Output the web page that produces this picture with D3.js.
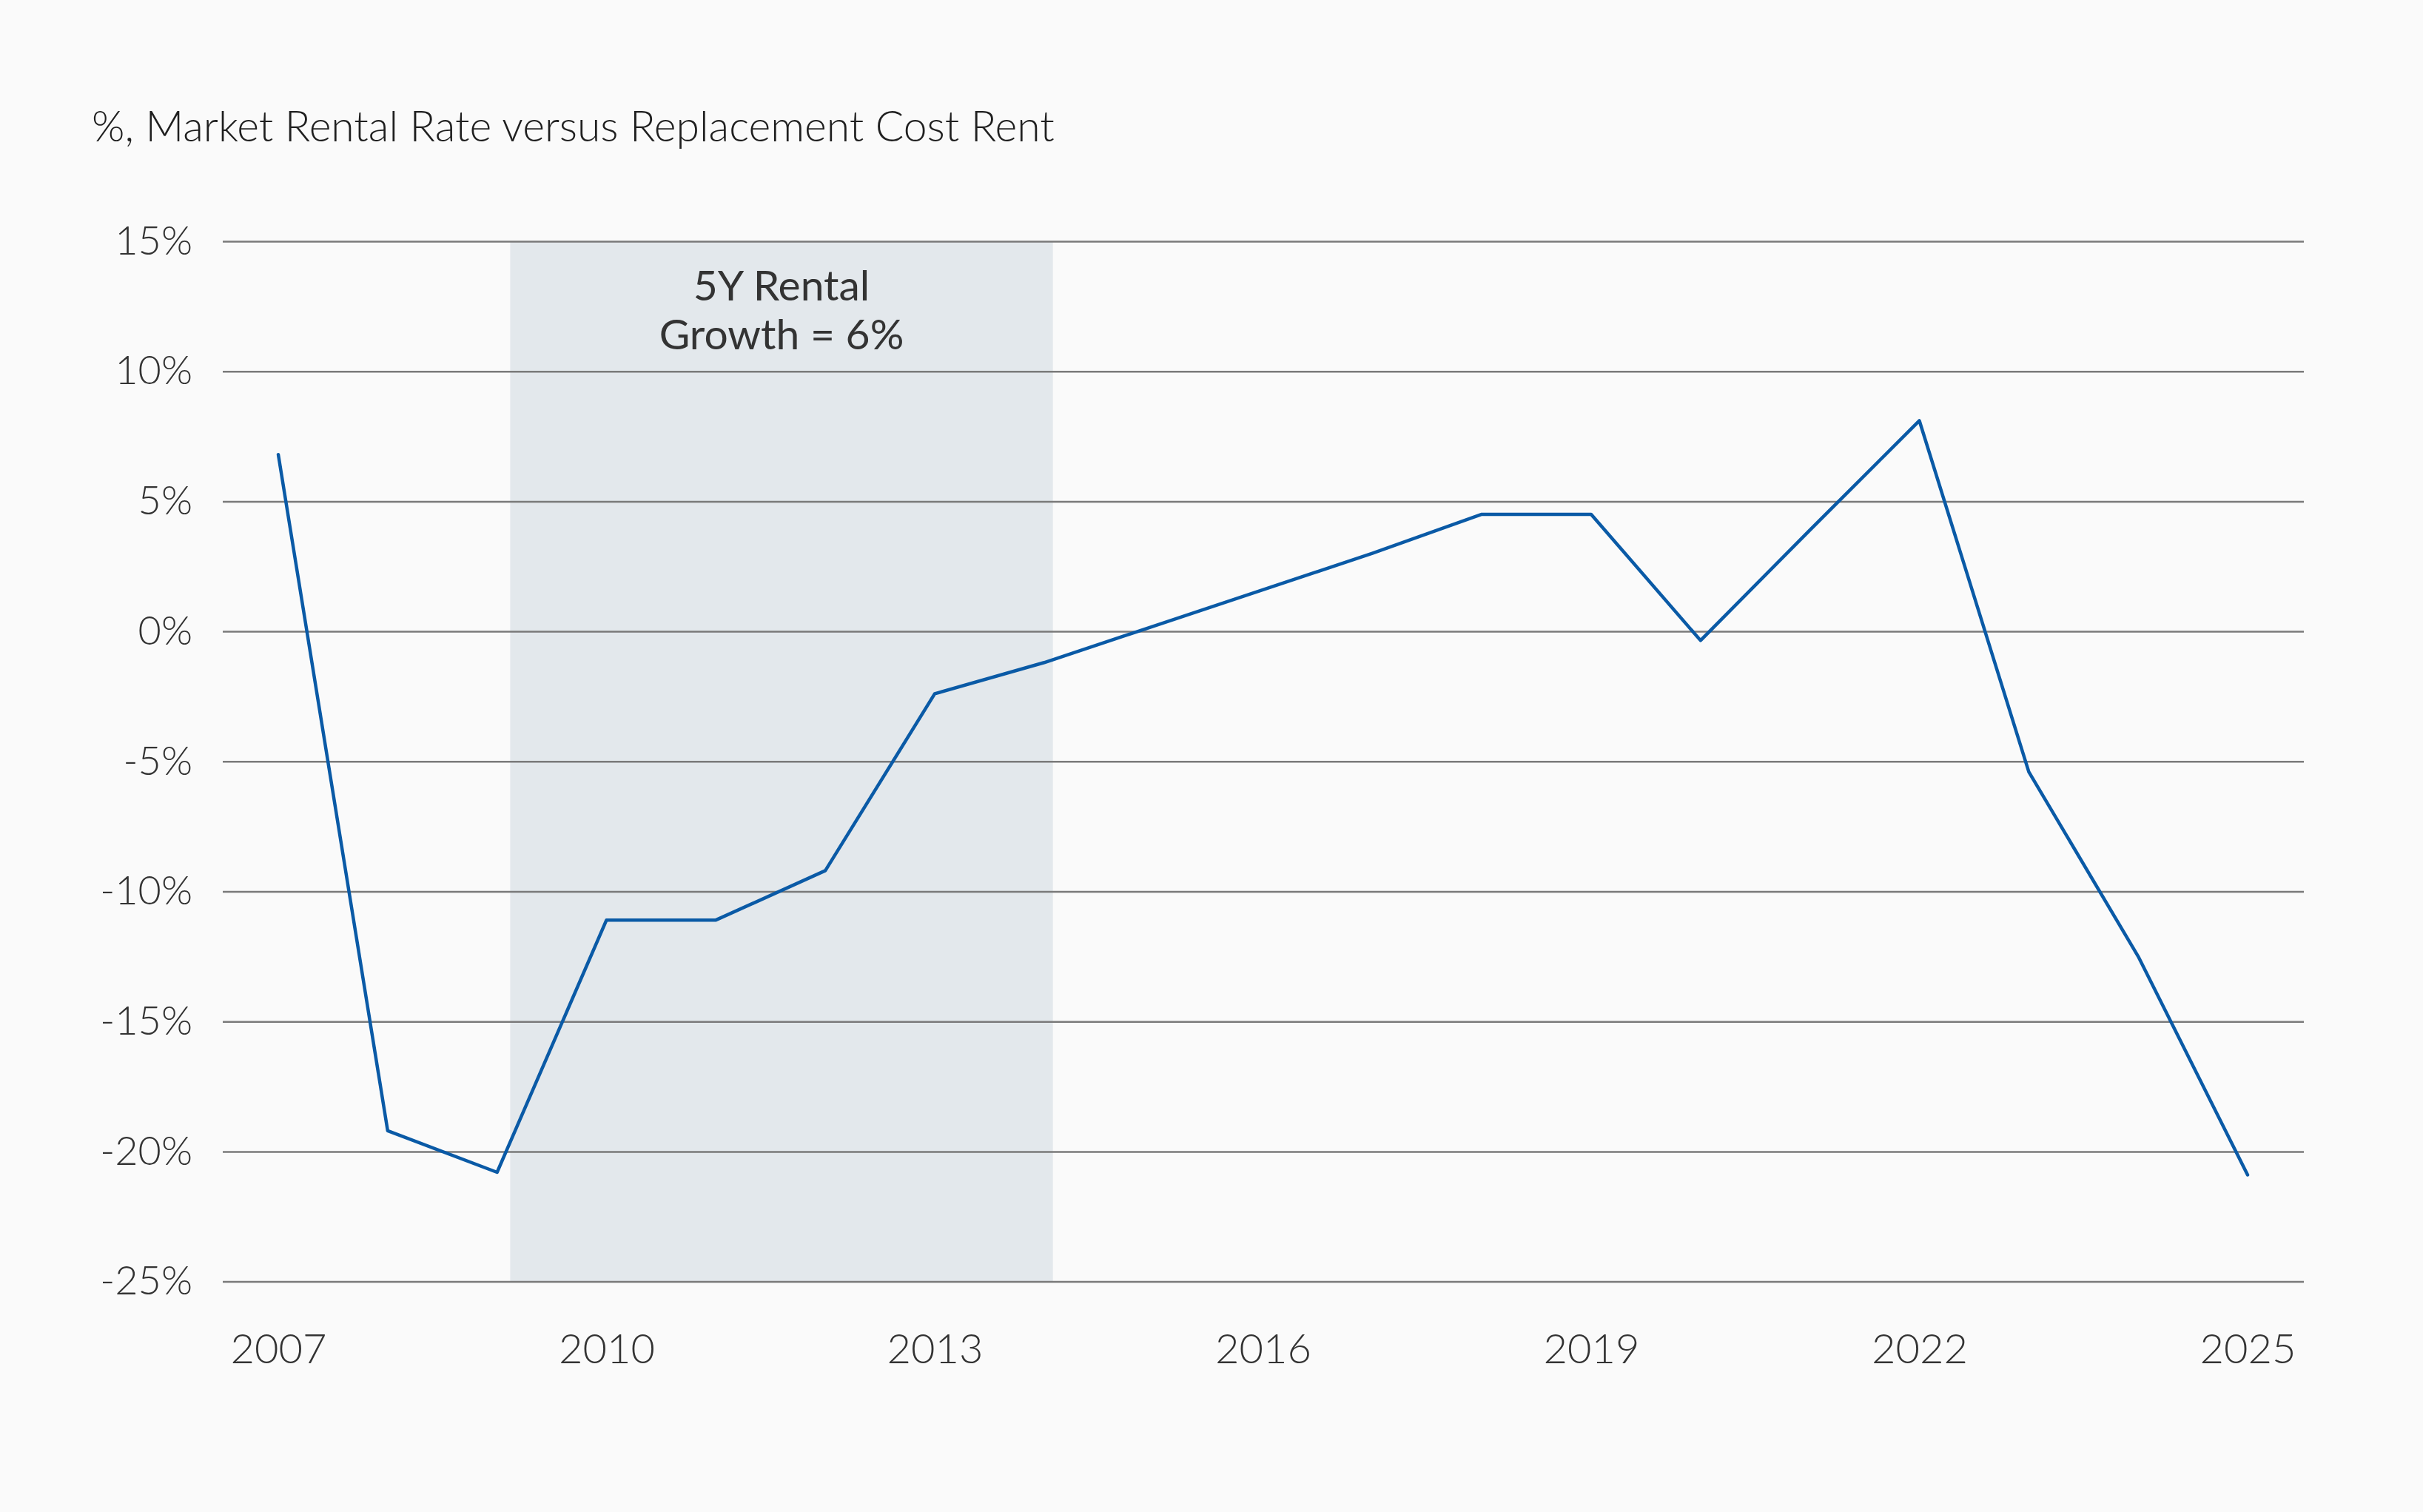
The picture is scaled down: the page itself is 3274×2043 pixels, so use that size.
<!DOCTYPE html>
<html>
<head>
<meta charset="utf-8">
<script src="https://cdn.jsdelivr.net/npm/d3@7"></script>
<style>
  html, body { margin: 0; padding: 0; background: #fafafa; }
  svg { display: block; }
  text { font-family: Lato, "Open Sans", sans-serif; }
</style>
</head>
<body>
<script>
// ---- data ----
const years = [2007, 2008, 2009, 2010, 2011, 2012, 2013, 2014, 2015, 2016,
               2017, 2018, 2019, 2020, 2021, 2022, 2023, 2024, 2025];
const values = [6.8, -19.2, -20.8, -11.1, -11.1, -9.2, -2.4, -1.2, 0.2, 1.6,
                3.0, 4.5, 4.5, -0.35, 3.9, 8.1, -5.4, -12.5, -20.9];
const yTicks = [15, 10, 5, 0, -5, -10, -15, -20, -25];
const xTicks = [2007, 2010, 2013, 2016, 2019, 2022, 2025];
const shadeRange = [2009.12, 2014.08];
const annotationLines = ["5Y Rental", "Growth = 6%"];
const titleText = "%, Market Rental Rate versus Replacement Cost Rent";

// ---- layout ----
const W = 3274, H = 2043;
const gridLeft = 301, gridRight = 3113;
const x = d3.scaleLinear().domain([2007, 2025]).range([376, 3037]);
const y = d3.scaleLinear().domain([-25, 15]).range([1731.6, 326]);

const svg = d3.select("body").append("svg")
  .attr("width", W).attr("height", H);

svg.append("rect").attr("width", W).attr("height", H).attr("fill", "#fafafa");

// title
svg.append("text")
  .attr("x", 124).attr("y", 191)
  .attr("font-size", 57).attr("font-weight", 300)
  .attr("fill", "#1f1f1f")
  .text(titleText);

// shaded band
svg.append("rect")
  .attr("x", x(shadeRange[0]))
  .attr("width", x(shadeRange[1]) - x(shadeRange[0]))
  .attr("y", y(15))
  .attr("height", y(-25) - y(15))
  .attr("fill", "#e3e8ec");

// y axis with gridlines
const yAxis = d3.axisLeft(y)
  .tickValues(yTicks)
  .tickSize(-(gridRight - gridLeft))
  .tickPadding(41)
  .tickFormat(d => d + "%");

const gy = svg.append("g")
  .attr("transform", `translate(${gridLeft},0)`)
  .call(yAxis);
gy.select(".domain").remove();
gy.selectAll(".tick line").attr("stroke", "#7a7a7a").attr("stroke-width", 2.5);
gy.selectAll(".tick text")
  .attr("font-size", 54).attr("font-weight", 300)
  .attr("fill", "#333").attr("font-family", "Lato, 'Open Sans', sans-serif");

// x axis
const xAxis = d3.axisBottom(x)
  .tickValues(xTicks)
  .tickSize(0)
  .tickFormat(d3.format("d"));
const gx = svg.append("g")
  .attr("transform", `translate(0,${y(-25)})`)
  .call(xAxis);
gx.select(".domain").remove();
gx.selectAll(".tick text")
  .attr("y", 110).attr("dy", 0)
  .attr("font-size", 56).attr("font-weight", 300)
  .attr("fill", "#333").attr("font-family", "Lato, 'Open Sans', sans-serif");

// annotation
const cx = (x(shadeRange[0]) + x(shadeRange[1])) / 2;
svg.append("text")
  .attr("text-anchor", "middle")
  .attr("font-size", 57).attr("font-weight", 400)
  .attr("fill", "#333")
  .selectAll("tspan")
  .data(annotationLines)
  .join("tspan")
  .attr("x", cx)
  .attr("y", (d, i) => 406 + i * 66)
  .text(d => d);

// line
const line = d3.line()
  .x((d, i) => x(years[i]))
  .y(d => y(d));
svg.append("path")
  .datum(values)
  .attr("d", line)
  .attr("fill", "none")
  .attr("stroke", "#0a5aa6")
  .attr("stroke-width", 4.5)
  .attr("stroke-linejoin", "round")
  .attr("stroke-linecap", "round");
</script>
</body>
</html>
